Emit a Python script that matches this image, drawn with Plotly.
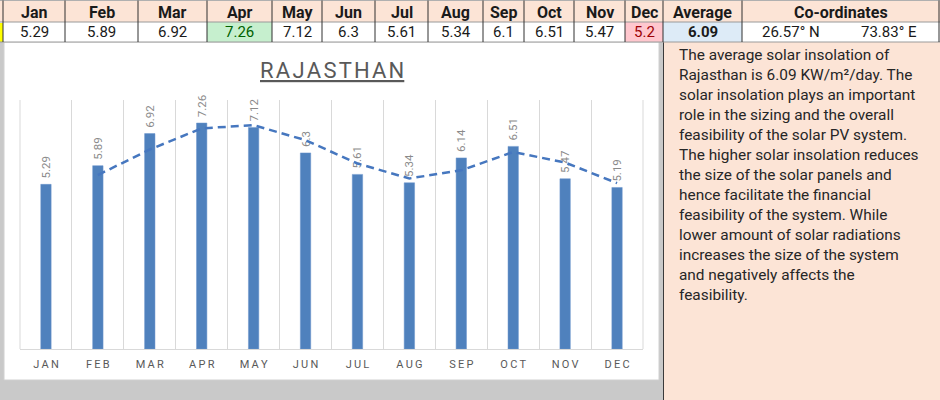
import plotly.graph_objects as go

# ---------------- data ----------------
months = ["Jan", "Feb", "Mar", "Apr", "May", "Jun", "Jul", "Aug", "Sep", "Oct", "Nov", "Dec"]
table_values = [5.29, 5.89, 6.92, 7.26, 7.12, 6.3, 5.61, 5.34, 6.1, 6.51, 5.47, 5.2]
chart_values = [5.29, 5.89, 6.92, 7.26, 7.12, 6.3, 5.61, 5.34, 6.14, 6.51, 5.47, 5.19]
trend_months = months[1:]
trend_values = [5.59, 6.41, 7.09, 7.19, 6.71, 5.96, 5.48, 5.74, 6.33, 5.99, 5.33]
average_value = 6.09
latitude = "26.57° N"
longitude = "73.83° E"
chart_title = "RAJASTHAN"
description_lines = [
    "The average solar insolation of",
    "Rajasthan is 6.09 KW/m²/day. The",
    "solar insolation plays an important",
    "role in the sizing and the overall",
    "feasibility of the solar PV system.",
    "The higher solar insolation reduces",
    "the size of the solar panels and",
    "hence facilitate the financial",
    "feasibility of the system. While",
    "lower amount of solar radiations",
    "increases the size of the system",
    "and negatively affects the",
    "feasibility.",
]

# ---------------- layout helpers ----------------
W, H = 940, 400
FONT = "Roboto"


def X(p):
    return p / W


def Y(p):
    return 1 - p / H


def spaced(s, sep="\u2009"):
    return sep.join(s)


axis_labels = [spaced(m.upper()) for m in months]
trend_labels = [spaced(m.upper()) for m in trend_months]

shapes = []
annotations = []


def rect(x0, y0, x1, y1, fill, line=None, lw=0, layer="below"):
    shapes.append(dict(type="rect", xref="paper", yref="paper",
                       x0=X(x0), x1=X(x1), y0=Y(y1), y1=Y(y0),
                       fillcolor=fill, layer=layer,
                       line=dict(color=line or fill, width=lw)))


def hline(x0, x1, y, color, w=1, layer="above"):
    shapes.append(dict(type="line", xref="paper", yref="paper",
                       x0=X(x0), x1=X(x1), y0=Y(y), y1=Y(y), layer=layer,
                       line=dict(color=color, width=w)))


def vline(x, y0, y1, color, w=1, layer="above"):
    shapes.append(dict(type="line", xref="paper", yref="paper",
                       x0=X(x), x1=X(x), y0=Y(y0), y1=Y(y1), layer=layer,
                       line=dict(color=color, width=w)))


def text(x, y, s, size, color="#1a1a1a", bold=False, xanchor="center"):
    annotations.append(dict(xref="paper", yref="paper", x=X(x), y=Y(y),
                            text=f"<b>{s}</b>" if bold else s,
                            showarrow=False, xanchor=xanchor, yanchor="middle",
                            font=dict(family=FONT, size=size, color=color)))


# ---------------- background pieces ----------------
HATCH = "#c9c9c9"
rect(0, 42, 4, 400, HATCH)             # left hatch
rect(0, 380, 663, 400, HATCH)          # bottom hatch
rect(659, 42, 663, 400, HATCH)         # right hatch
rect(4, 42, 659, 380, "white", "#d0d0d0", 1)  # chart area

# text box
rect(663, 42, 940, 400, "#FCE4D6")
vline(663.5, 42, 400, "#3a3a3a", 1)

# ---------------- table ----------------
col_edges = [3, 65, 138, 207, 272, 322, 375, 428, 483, 524, 574, 625, 663, 742, 939]
HDR_Y0, HDR_Y1, VAL_Y1 = 1, 22, 42

rect(0, HDR_Y0, 940, HDR_Y1, "#FCE4D6")
rect(0, HDR_Y1, 940, VAL_Y1, "white")
rect(0, HDR_Y1 + 1, 3, VAL_Y1, "#FFFF00")

headers = months + ["Average"]
for i, h in enumerate(headers):
    cx = (col_edges[i] + col_edges[i + 1]) / 2
    text(cx, 12, h, 16, bold=True)
text((742 + 939) / 2, 12, "Co-ordinates", 16, bold=True)

best = table_values.index(max(table_values))
worst = table_values.index(min(table_values))
for i, v in enumerate(table_values):
    x0, x1 = col_edges[i], col_edges[i + 1]
    color = "#1a1a1a"
    if i == best:
        rect(x0, HDR_Y1, x1, VAL_Y1, "#C6EFCE")
        color = "#006100"
    elif i == worst:
        rect(x0, HDR_Y1, x1, VAL_Y1, "#FFC7CE")
        color = "#9C0006"
    text((x0 + x1) / 2, 32, f"{v}", 15, color=color)

rect(663, HDR_Y1, 742, VAL_Y1, "#DDEBF7")
text((663 + 742) / 2, 32, f"{average_value}", 15, bold=True)
text(791, 32, latitude, 15)
text(889, 32, longitude, 15)

hline(0, 940, HDR_Y0 - 0.5, "#b0b0b0")
hline(0, 940, HDR_Y1, "#9a9a9a")
hline(0, 940, VAL_Y1, "#9a9a9a")
for e in col_edges:
    vline(e, HDR_Y0 - 0.5, VAL_Y1, "#303030")

# ---------------- chart title & description ----------------
annotations.append(dict(xref="paper", yref="paper", x=X(331.5), y=Y(70),
                        text=spaced(chart_title, "\u200a"), showarrow=False,
                        xanchor="center", yanchor="middle",
                        font=dict(family=FONT, size=22, color="#595959",
                                  lineposition="under")))

annotations.append(dict(xref="paper", yref="paper", x=X(677), y=Y(44),
                        text="<br>".join(description_lines), showarrow=False,
                        xanchor="left", yanchor="top", align="left",
                        font=dict(family=FONT, size=15.4, color="#262626")))

# ---------------- traces ----------------
bars = go.Bar(
    x=axis_labels, y=chart_values, width=0.2,
    marker=dict(color="#4F81BD", line=dict(color="#6a95cc", width=0.5)),
    text=["\u00a0" + f"{v}" for v in chart_values],
    textposition="outside", textangle=-90, constraintext="none",
    textfont=dict(family=FONT, size=11.5, color="#8a8a8a"),
    cliponaxis=False, hoverinfo="skip",
)
trend = go.Scatter(
    x=trend_labels, y=trend_values, mode="lines",
    line=dict(color="#4677BF", width=2.5, dash="8px,5px"),
    hoverinfo="skip",
)

fig = go.Figure([bars, trend])
fig.update_layout(
    width=W, height=H, margin=dict(l=0, r=0, t=0, b=0),
    paper_bgcolor="white", plot_bgcolor="rgba(0,0,0,0)",
    showlegend=False, font=dict(family=FONT),
    shapes=shapes, annotations=annotations,
    xaxis=dict(domain=[X(20), X(643)], range=[-0.5, 11.5], type="category",
               showgrid=True, gridcolor="#d9d9d9", gridwidth=1,
               tickson="boundaries", ticks="", showline=True, linecolor="#d9d9d9",
               mirror=False, zeroline=False, ticklabelstandoff=5,
               tickfont=dict(family=FONT, size=11, color="#595959"), fixedrange=True),
    yaxis=dict(domain=[Y(349), Y(100)], range=[0, 8], visible=False,
               showgrid=False, fixedrange=True),
)
# plot-area edge separators
vline(20, 100, 349, "#d9d9d9", 1, layer="below")
vline(643, 100, 349, "#d9d9d9", 1, layer="below")
fig.update_layout(shapes=shapes)

fig.write_html("out.html")
